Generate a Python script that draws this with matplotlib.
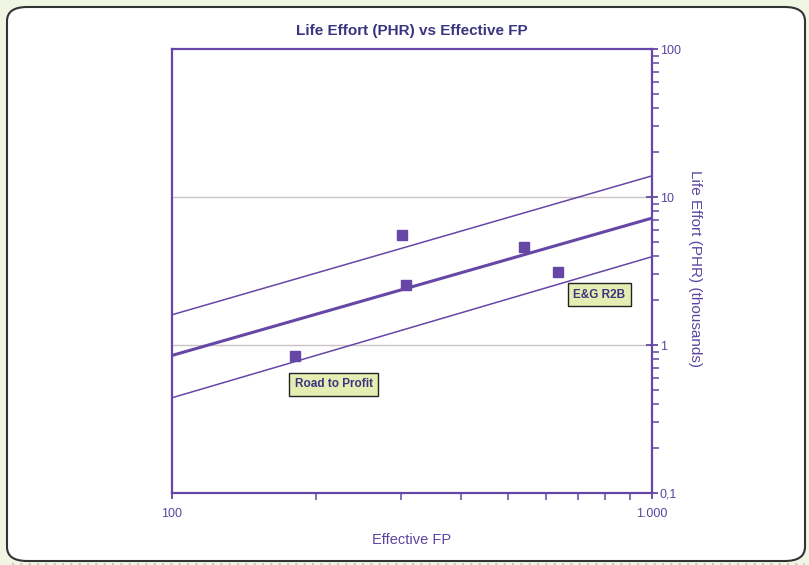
import numpy as np
import matplotlib.pyplot as plt
from matplotlib.patches import FancyBboxPatch
from matplotlib.ticker import FixedLocator, FuncFormatter, NullFormatter

plt.rcParams['font.family'] = ['Liberation Sans', 'DejaVu Sans']

# project data points (effective FP, life effort in thousands of PHR)
fp = [180, 301, 307, 541, 637]
effort = [0.84, 5.55, 2.54, 4.6, 3.11]

# regression line and its band, given at the ends of the x range
line_fp = [100, 1000]
trend = [0.85, 7.2]
upper = [1.6, 13.9]
lower = [0.44, 3.95]

# labelled projects (index into the points above)
labels = ["Road to Profit", "E&G R2B"]
label_idx = [0, 4]
label_offsets = [(0, -16), (11, -12)]

x_ticks = [100, 1000]
x_ticklabels = ["100", "1.000"]
y_ticks = [0.1, 1, 10, 100]
y_ticklabels = ["0,1", "1", "10", "100"]

purple = "#6647a6"
text_purple = "#5b45a0"
dark = "#3b3580"

fig = plt.figure(figsize=(8.09, 5.65), dpi=100)
fig.patch.set_facecolor("#f0f6e3")

# white rounded panel behind the chart
panel = FancyBboxPatch((7 / 809, 4 / 565), 798 / 809, 554 / 565,
                       boxstyle="round,pad=0,rounding_size=0.025",
                       transform=fig.transFigure, facecolor="white",
                       edgecolor="#333333", linewidth=1.5, zorder=-5)
fig.patches.append(panel)
fig.add_artist(plt.Line2D([12 / 809, 805 / 809], [1.5 / 565, 1.5 / 565],
                          transform=fig.transFigure, color="#c8ccbc",
                          linestyle=(0, (1, 3)), linewidth=1.5, zorder=-5))

ax = fig.add_axes([172 / 809, 72 / 565, 480 / 809, 444 / 565])
ax.set_zorder(2)
ax.set_facecolor("white")
ax.set_xscale("log")
ax.set_yscale("log")
ax.set_xlim(100, 1000)
ax.set_ylim(0.1, 100)

for yy in [1, 10]:
    ax.axhline(yy, color="#cbc3c3", linewidth=1, zorder=1)

ax.plot(line_fp, upper, color=purple, linewidth=1.1, zorder=2)
ax.plot(line_fp, lower, color=purple, linewidth=1.1, zorder=2)
ax.plot(line_fp, trend, color=purple, linewidth=2.2, zorder=2,
        solid_capstyle="butt")
ax.plot(fp, effort, linestyle="none", marker="s", markersize=7,
        color=purple, zorder=3)

for name, i, off in zip(labels, label_idx, label_offsets):
    ax.annotate(name, (fp[i], effort[i]), xytext=off,
                textcoords="offset points", fontsize=8.5, fontweight="bold",
                color=dark, ha="left", va="top",
                bbox=dict(boxstyle="square,pad=0.45", facecolor="#e6edb2",
                          edgecolor="#222222", linewidth=1))

for s in ax.spines.values():
    s.set_color(purple)
    s.set_linewidth(1.6)

ax.yaxis.tick_right()
ax.yaxis.set_label_position("right")
ax.xaxis.set_major_locator(FixedLocator(x_ticks))
ax.xaxis.set_major_formatter(FuncFormatter(
    lambda v, p: x_ticklabels[x_ticks.index(round(v))] if round(v) in x_ticks else ""))
ax.xaxis.set_minor_formatter(NullFormatter())
ax.yaxis.set_major_locator(FixedLocator(y_ticks))
ax.yaxis.set_major_formatter(FuncFormatter(
    lambda v, p: y_ticklabels[int(round(np.log10(v))) + 1]))
ax.yaxis.set_minor_formatter(NullFormatter())

ax.tick_params(which="major", direction="inout", length=9, width=1.3,
               color=purple, labelcolor=text_purple, labelsize=9)
ax.tick_params(which="minor", direction="out", length=5, width=1.1,
               color=purple)
ax.tick_params(axis="y", which="major", pad=1)
ax.tick_params(axis="x", which="major", pad=6)

ax.set_title("Life Effort (PHR) vs Effective FP", fontsize=11,
             fontweight="bold", color=dark, pad=10)
ax.set_xlabel("Effective FP", fontsize=10.5, color=text_purple, labelpad=10)
ax.set_ylabel("Life Effort (PHR) (thousands)", fontsize=11,
              color=text_purple, rotation=-90)
ax.yaxis.set_label_coords(1.105, 0.505)

fig.savefig("out.png", dpi=100)
